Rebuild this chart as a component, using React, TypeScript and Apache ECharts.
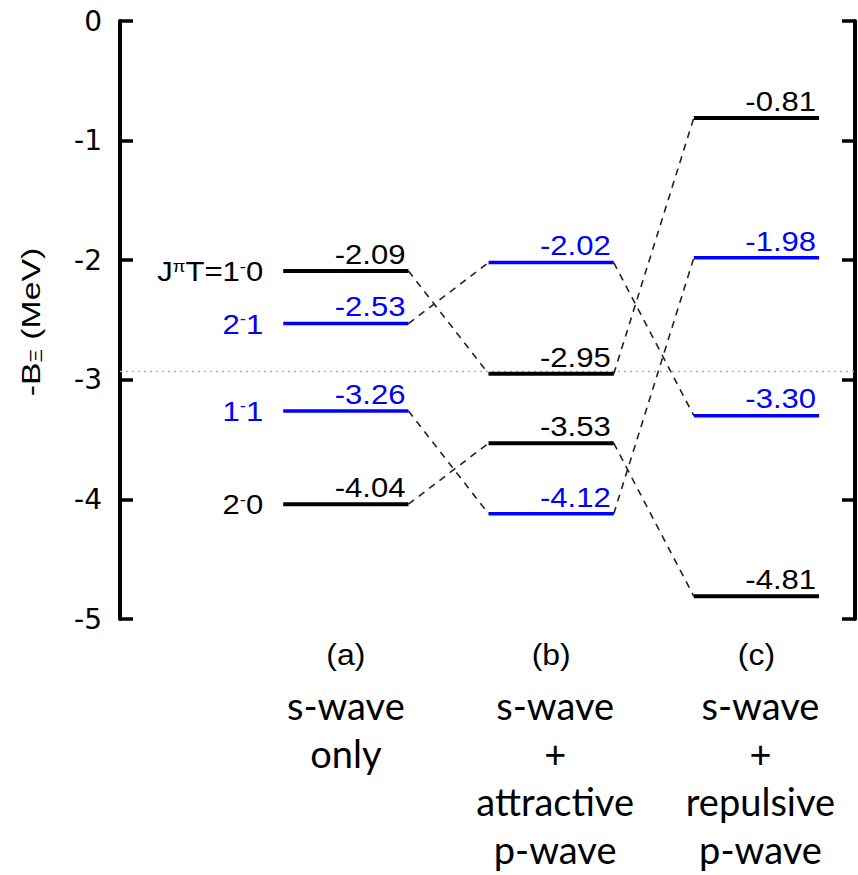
import React, { useEffect, useRef } from "react";
import * as echarts from "echarts";

// ---- data ----
const STATE_J = ["1", "2", "1", "2"];
const STATE_T = ["0", "1", "1", "0"];
const LEVELS_A = [-2.09, -2.53, -3.26, -4.04]; // s-wave only
const LEVELS_B = [-2.95, -2.02, -4.12, -3.53]; // s-wave + attractive p-wave
const LEVELS_C = [-0.81, -3.3, -1.98, -4.81]; // s-wave + repulsive p-wave
const THRESHOLD = -2.93;
const PANEL_TAGS = ["(a)", "(b)", "(c)"];
const PANEL_NOTES = [
  ["s-wave", "only"],
  ["s-wave", "+", "attractive", "p-wave"],
  ["s-wave", "+", "repulsive", "p-wave"],
];
const Y_MIN = -5;
const Y_MAX = 0;
const Y_STEP = 1;

const HALF = 0.305;
const colorOfT = (t: string) => (t === "0" ? "#000000" : "#0000ff");

export default function App() {
  const ref = useRef<HTMLDivElement>(null);
  useEffect(() => {
    const chart = echarts.init(ref.current!, null, { renderer: "svg" });
    const columns = [LEVELS_A, LEVELS_B, LEVELS_C];
    const levelData: number[][] = [];
    columns.forEach((col, c) => col.forEach((v, s) => levelData.push([c + 1, v, s])));
    const linkData: number[][] = [];
    for (let s = 0; s < STATE_J.length; s++) {
      for (let c = 0; c < columns.length - 1; c++) {
        linkData.push([c + 1, columns[c][s], c + 2, columns[c + 1][s], s]);
      }
    }
    const tagData = PANEL_TAGS.map((_, i) => [i + 1, Y_MIN, i]);

    const yAxisBase = {
      type: "value",
      min: Y_MIN,
      max: Y_MAX,
      interval: Y_STEP,
      axisLine: { show: true, onZero: false, lineStyle: { color: "#000", width: 4 } },
      axisTick: { show: true, inside: true, length: 13, lineStyle: { color: "#000", width: 3.5 } },
      splitLine: { show: false },
    };

    chart.setOption({
      animation: false,
      grid: { left: 120, right: 3, top: 21, bottom: 256 },
      xAxis: { type: "value", min: -0.1, max: 3.48, show: false },
      yAxis: [
        {
          ...yAxisBase,
          position: "left",
          axisLabel: { fontSize: 28, fontFamily: "DejaVu Sans", color: "#000", margin: 18 },
        },
        { ...yAxisBase, position: "right", axisLabel: { show: false } },
      ],
      graphic: [
        {
          type: "text",
          x: 31,
          y: 322,
          rotation: Math.PI / 2,
          scaleX: 1.3,
          style: {
            text: "-B{sub|Ξ} (MeV)",
            fontSize: 26,
            fontFamily: "Liberation Sans",
            fill: "#000",
            align: "center",
            verticalAlign: "middle",
            rich: {
              sub: { fontSize: 16, fontFamily: "Liberation Sans", fill: "#000", verticalAlign: "bottom" },
            },
          },
        },
      ],
      series: [
        {
          type: "line",
          data: [
            [-0.1, THRESHOLD],
            [3.48, THRESHOLD],
          ],
          showSymbol: false,
          symbol: "none",
          lineStyle: { color: "#b0b0b0", width: 1.5, type: [2, 4] },
          z: 1,
        },
        {
          type: "custom",
          clip: false,
          z: 2,
          data: linkData,
          encode: { x: [0, 2], y: [1, 3] },
          renderItem: (params: any, api: any) => {
            const p0 = api.coord([api.value(0) + HALF, api.value(1)]);
            const p1 = api.coord([api.value(2) - HALF, api.value(3)]);
            return {
              type: "line",
              shape: { x1: p0[0], y1: p0[1], x2: p1[0], y2: p1[1] },
              style: { stroke: "#222", lineWidth: 1.6, lineDash: [7, 6] },
            };
          },
        },
        {
          type: "custom",
          clip: false,
          z: 3,
          data: levelData,
          encode: { x: 0, y: 1 },
          renderItem: (params: any, api: any) => {
            const c = api.value(0);
            const v = api.value(1);
            const s = api.value(2);
            const color = colorOfT(STATE_T[s]);
            const p0 = api.coord([c - HALF, v]);
            const p1 = api.coord([c + HALF, v]);
            const children: any[] = [
              {
                type: "line",
                shape: { x1: p0[0], y1: p0[1], x2: p1[0], y2: p1[1] },
                style: { stroke: color, lineWidth: STATE_T[s] === "0" ? 4 : 3.5 },
              },
              {
                type: "text",
                x: p1[0] - 3,
                y: p1[1] - 3,
                scaleX: 1.15,
                style: {
                  text: v.toFixed(2),
                  fontSize: 27,
                  fontFamily: "Liberation Sans",
                  fill: color,
                  align: "right",
                  verticalAlign: "bottom",
                },
              },
            ];
            if (c === 1) {
              const label =
                (s === 0 ? "J{sup|π}T=" : "") + STATE_J[s] + "{sup|-}" + STATE_T[s];
              children.push({
                type: "text",
                x: p0[0] - 20,
                y: p0[1] + 1,
                scaleX: 1.15,
                style: {
                  text: label,
                  fontSize: 27,
                  lineHeight: 28,
                  fontFamily: "Liberation Sans",
                  fill: color,
                  align: "right",
                  verticalAlign: "middle",
                  rich: {
                    sup: {
                      fontSize: 16,
                      fontFamily: "Liberation Sans",
                      fill: color,
                      verticalAlign: "top",
                    },
                  },
                },
              });
            }
            return { type: "group", children };
          },
        },
        {
          type: "custom",
          clip: false,
          z: 3,
          data: tagData,
          encode: { x: 0, y: 1 },
          renderItem: (params: any, api: any) => {
            const i = api.value(2);
            const p = api.coord([api.value(0), api.value(1)]);
            const children: any[] = [
              {
                type: "text",
                x: p[0],
                y: p[1] + 36,
                scaleX: 1.1,
                style: {
                  text: PANEL_TAGS[i],
                  fontSize: 29,
                  fontFamily: "Liberation Sans",
                  fill: "#000",
                  align: "center",
                  verticalAlign: "middle",
                },
              },
            ];
            PANEL_NOTES[i].forEach((t, k) => {
              children.push({
                type: "text",
                x: p[0] + (i === 0 ? 0 : 4),
                y: p[1] + 86 + k * 48,
                style: {
                  text: t,
                  fontSize: 38,
                  fontFamily: "Lato",
                  fill: "#000",
                  align: "center",
                  verticalAlign: "middle",
                },
              });
            });
            return { type: "group", children };
          },
        },
      ],
    });
    return () => chart.dispose();
  }, []);
  return (
    <div
      ref={ref}
      style={{ position: "fixed", left: 0, top: 0, width: 858, height: 875, background: "#fff" }}
    />
  );
}
